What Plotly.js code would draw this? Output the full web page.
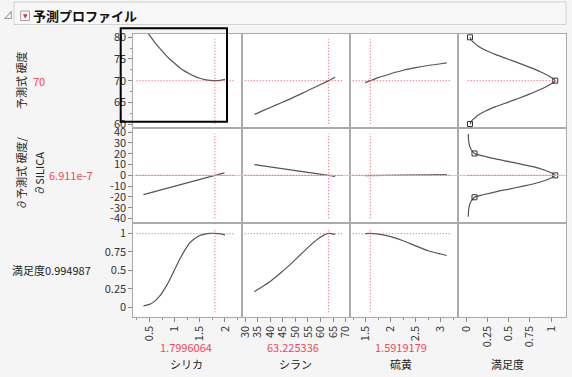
<!DOCTYPE html>
<html><head><meta charset="utf-8">
<script src="https://cdn.plot.ly/plotly-3.0.1.min.js"></script>
<style>html,body{margin:0;padding:0;background:#f5f5f5}</style>
</head><body><div id="chart" style="width:572px;height:377px"></div>
<script>
// ---------------- data ----------------
const factorNames = ['シリカ', 'シラン', '硫黄', '満足度'];
const currentX = [1.7996064, 63.225336, 1.5919179];
const currentXText = ['1.7996064', '63.225336', '1.5919179'];
const currentY = [70, 6.911e-7, 0.994987];

// silica column
const silicaX = [0.38, 0.5, 0.6, 0.7, 0.8, 0.9, 1.0, 1.1, 1.2, 1.3, 1.4, 1.5, 1.6, 1.7, 1.8, 1.9, 2.0];
const hardVsSilica = [82.5, 80.5, 78.9, 77.5, 76.2, 75.0, 74.0, 73.0, 72.2, 71.55, 71.0, 70.55, 70.25, 70.06, 70.0, 70.06, 70.3];
const desirVsSilica = [0.02, 0.04, 0.08, 0.15, 0.25, 0.37, 0.51, 0.65, 0.77, 0.87, 0.93, 0.97, 0.99, 1.0, 1.0, 0.995, 0.978];
const silicaDX = [0.38, 1.8, 1.99];
const derivVsSilica = [-17.8, 0.0, 2.3];

// silane column
const silaneX = [33.7, 36, 40, 44, 48, 52, 56, 60, 63.2, 65.8];
const hardVsSilane = [62.2, 62.8, 63.8, 64.8, 65.8, 66.9, 68.0, 69.1, 70.0, 70.8];
const desirVsSilane = [0.21, 0.26, 0.35, 0.46, 0.58, 0.71, 0.84, 0.95, 1.0, 0.985];
const silaneDX = [33.7, 63.2, 65.8];
const derivVsSilane = [10.0, 0.0, -0.9];

// sulfur column
const sulfurX = [1.49, 1.59, 1.75, 2.0, 2.25, 2.5, 2.75, 3.0, 3.12];
const hardVsSulfur = [69.55, 70.0, 70.7, 71.6, 72.4, 73.0, 73.5, 73.9, 74.1];
const desirVsSulfur = [0.995, 1.0, 0.99, 0.955, 0.9, 0.83, 0.765, 0.72, 0.70];
const sulfurDX = [1.49, 2.3, 3.12];
const derivVsSulfur = [-0.3, 0.25, 0.8];

// desirability functions (column 4)
const hardGrid = [60, 60.5, 61, 61.5, 62, 63, 64, 65, 66, 67, 68, 69, 70, 71, 72, 73, 74, 75, 76, 77, 78, 78.5, 79, 79.5, 80];
const hardDesir = [0.047, 0.06, 0.08, 0.11, 0.14, 0.23, 0.35, 0.49, 0.63, 0.76, 0.88, 0.98, 1.05, 0.98, 0.88, 0.76, 0.63, 0.49, 0.35, 0.23, 0.14, 0.11, 0.08, 0.06, 0.047];
const hardMarkY = [60, 70, 80];
const hardMarkX = [0.047, 1.05, 0.047];
const derivGrid = [-38.4, -33, -28, -24, -20.3, -18, -15, -12.5, -10, -7.8, -5, -2.5, 0, 2.5, 5, 7.8, 10, 12.5, 15, 18, 20.3, 24, 28, 33, 38.4];
const derivDesir = [0.027, 0.03, 0.04, 0.06, 0.1, 0.2, 0.36, 0.52, 0.67, 0.8, 0.92, 1.0, 1.05, 1.0, 0.92, 0.8, 0.67, 0.52, 0.36, 0.2, 0.1, 0.06, 0.04, 0.03, 0.027];
const derivMarkY = [-20.3, 0, 20.3];
const derivMarkX = [0.1, 1.05, 0.1];

const yTick1 = [60, 65, 70, 75, 80];
const yTick2 = [-40, -30, -20, -10, 0, 10, 20, 30, 40];
const yTick2Text = ['-40', '-30', '-20', '-10', '0', '10', '20', '30', '40'];
const yTick3 = [0, 0.25, 0.5, 0.75, 1];

// ---------------- layout geometry ----------------
const W = 572, H = 377;
const px = x => x / W, py = y => 1 - y / H;
const colEdges = [133.3, 241.5, 349.5, 457.5, 565.7];
const rowEdges = [33.5, 128, 222.5, 316.5];
const colRanges = [[0.178, 2.328], [28.61, 71.5], [1.176, 3.336], [-0.1, 1.173]];
const rowRanges = [[59.08, 80.88], [-43.7, 43.9], [-0.124, 1.146]];
const colDtick = [0.5, 5, 0.5, 0.25];
const colMinor = [0.25, null, 0.25, null];

const RED = '#ec4a58';
const LINE = '#555555';
const FONT = "'Noto Sans CJK JP', 'Noto Sans', sans-serif";

const idx = (r, c) => r * 4 + c + 1;
const xr = k => 'x' + (k === 1 ? '' : k);
const yr = k => 'y' + (k === 1 ? '' : k);

const layout = {
  width: W, height: H,
  margin: {l: 0, r: 0, t: 0, b: 0},
  paper_bgcolor: '#f5f5f5', plot_bgcolor: '#ffffff',
  showlegend: false,
  font: {family: FONT, size: 11, color: '#333'},
  shapes: [], annotations: []
};

for (let r = 0; r < 3; r++) {
  for (let c = 0; c < 4; c++) {
    const k = idx(r, c);
    const xa = {
      domain: [px(colEdges[c]), px(colEdges[c + 1])],
      anchor: yr(k), range: colRanges[c],
      showgrid: false, zeroline: false,
      showline: true, mirror: true, linecolor: '#ababab', linewidth: 1,
      showticklabels: r === 2, ticks: r === 2 ? 'outside' : '',
      tick0: 0, dtick: colDtick[c], ticklen: 4, tickcolor: '#888',
      tickangle: -90, tickfont: {size: 11, color: '#333', family: FONT},
      fixedrange: true
    };
    if (r === 2 && colMinor[c]) xa.minor = {ticks: 'outside', ticklen: 2, tickcolor: '#999', dtick: colMinor[c]};
    const ya = {
      domain: [py(rowEdges[r + 1]), py(rowEdges[r])],
      anchor: xr(k), range: rowRanges[r],
      showgrid: false, zeroline: false,
      showline: true, mirror: true, linecolor: '#ababab', linewidth: 1,
      showticklabels: c === 0, ticks: c === 0 ? 'outside' : '',
      ticklen: 4, tickcolor: '#888',
      tickfont: {size: 11, color: '#333', family: FONT},
      fixedrange: true
    };
    if (r === 0) { ya.tickvals = yTick1; if (c === 0) ya.minor = {ticks: 'outside', ticklen: 2, tickcolor: '#999', dtick: 2.5}; }
    if (r === 1) { ya.tickvals = yTick2; ya.ticktext = yTick2Text; }
    if (r === 2) { ya.tickvals = yTick3; }
    layout[k === 1 ? 'xaxis' : 'xaxis' + k] = xa;
    layout[k === 1 ? 'yaxis' : 'yaxis' + k] = ya;
  }
}

// ---------------- traces ----------------
const traces = [];
function addLine(r, c, x, y) {
  const k = idx(r, c);
  traces.push({type: 'scatter', mode: 'lines', x: x, y: y, xaxis: xr(k), yaxis: yr(k),
    line: {color: LINE, width: 1.2, shape: 'spline', smoothing: 0.6}, hoverinfo: 'skip'});
}
addLine(0, 0, silicaX, hardVsSilica);
addLine(1, 0, silicaDX, derivVsSilica);
addLine(2, 0, silicaX, desirVsSilica);
addLine(0, 1, silaneX, hardVsSilane);
addLine(1, 1, silaneDX, derivVsSilane);
addLine(2, 1, silaneX, desirVsSilane);
addLine(0, 2, sulfurX, hardVsSulfur);
addLine(1, 2, sulfurDX, derivVsSulfur);
addLine(2, 2, sulfurX, desirVsSulfur);
addLine(0, 3, hardDesir, hardGrid);
addLine(1, 3, derivDesir, derivGrid);
traces.push({type: 'scatter', mode: 'markers', x: [], y: [], xaxis: xr(12), yaxis: yr(12), hoverinfo: 'skip'});
function addMarks(r, x, y) {
  const k = idx(r, 3);
  traces.push({type: 'scatter', mode: 'markers', x: x, y: y, xaxis: xr(k), yaxis: yr(k), cliponaxis: false,
    marker: {symbol: 'square-open', size: 5, color: '#333', line: {width: 1}}, hoverinfo: 'skip'});
}
addMarks(0, hardMarkX, hardMarkY);
addMarks(1, derivMarkX, derivMarkY);

// ---------------- reference lines ----------------
const dotted = {color: RED, width: 1, dash: '1px,2px'};
// full-width light line at current derivative value (row 2)
layout.shapes.push({type: 'line', xref: 'paper', yref: yr(idx(1, 0)), x0: px(colEdges[0]), x1: px(colEdges[4]),
  y0: currentY[1], y1: currentY[1], line: {color: '#f6b3b9', width: 1}, layer: 'above'});
for (let r = 0; r < 3; r++) {
  for (let c = 0; c < 3; c++) {
    const k = idx(r, c);
    layout.shapes.push({type: 'line', xref: xr(k), yref: yr(k) + ' domain', x0: currentX[c], x1: currentX[c],
      y0: 0.045, y1: 0.94, line: dotted});
    layout.shapes.push({type: 'line', xref: xr(k) + ' domain', yref: yr(k), x0: 0.03, x1: 0.945,
      y0: currentY[r], y1: currentY[r], line: dotted});
  }
  if (r < 2) {
    const k = idx(r, 3);
    layout.shapes.push({type: 'line', xref: xr(k), yref: yr(k), x0: 0.02, x1: r === 0 ? hardMarkX[1] : derivMarkX[1],
      y0: currentY[r], y1: currentY[r], line: dotted});
  }
}
// selection box around first panel
layout.shapes.push({type: 'rect', xref: 'paper', yref: 'paper', x0: px(120.7), x1: px(227), y0: py(121.7), y1: py(28.3),
  line: {color: '#000', width: 2}, fillcolor: 'rgba(0,0,0,0)'});
// header bar
layout.shapes.push({type: 'rect', xref: 'paper', yref: 'paper', x0: px(14), x1: px(566), y0: py(24.5), y1: py(2),
  line: {color: '#d2d2d2', width: 1}, fillcolor: '#f8f8f8', layer: 'below'});
layout.shapes.push({type: 'rect', xref: 'paper', yref: 'paper', x0: px(20.7), x1: px(29.5), y0: py(20.5), y1: py(11),
  line: {color: '#a0a0a0', width: 1}, fillcolor: '#ffffff'});

// ---------------- text ----------------
function ann(text, x, y, opts) {
  layout.annotations.push(Object.assign({text: text, x: px(x), y: py(y), xref: 'paper', yref: 'paper',
    showarrow: false, xanchor: 'center', yanchor: 'middle', font: {family: FONT, size: 11, color: '#222'}}, opts || {}));
}
ann('⊿', 7.5, 15, {font: {family: FONT, size: 10, color: '#888'}});
ann('▼', 25.1, 15.8, {font: {family: 'DejaVu Sans', size: 6, color: '#e0303c'}});
ann('<b>予測プロファイル</b>', 31, 15.5, {xanchor: 'left', font: {family: FONT, size: 13, color: '#111'}});

ann('予測式 硬度', 21, 81, {textangle: -90});
ann('70', 39, 80.5, {font: {family: FONT, size: 11, color: RED}});
ann('∂予測式 硬度/', 21, 174, {textangle: -90});
ann('∂SILICA', 38.3, 173.5, {textangle: -90});
ann('6.911e-7', 70.5, 175.5, {font: {family: FONT, size: 11, color: RED}});
ann('満足度0.994987', 51.5, 270);

const valX = [185.5, 293.3, 401];
for (let c = 0; c < 3; c++) ann(currentXText[c], valX[c], 347, {font: {family: FONT, size: 11, color: RED}});
const titleX = [186.5, 295, 401.5, 507];
for (let c = 0; c < 4; c++) ann(factorNames[c], titleX[c], 364);

Plotly.newPlot('chart', traces, layout, {staticPlot: true, displayModeBar: false});
</script></body></html>
